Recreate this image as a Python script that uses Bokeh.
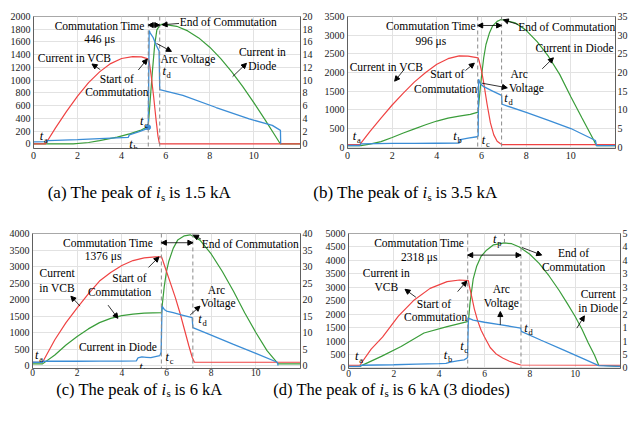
from bokeh.plotting import figure
from bokeh.models import Range1d, LinearAxis, FixedTicker, Span, Arrow, NormalHead, Label
from bokeh.layouts import column, row
from bokeh.embed import file_html
from bokeh.resources import INLINE

# ---------------- data ----------------
x_ticks = [0, 2, 4, 6, 8, 10]

# (a) peak 1.5 kA
a_red_t = [0, 0.55, 1.0, 1.5, 2.0, 2.5, 3.0, 3.5, 4.0, 4.5, 4.9, 5.2, 5.25, 5.35, 5.45, 5.55, 5.65, 5.72, 12.12]
a_red_i = [0, 0, 250, 510, 750, 960, 1130, 1260, 1340, 1370, 1365, 1335, 1300, 1050, 750, 420, 120, 0, 0]
a_green_t = [0, 1.8, 2.5, 3.0, 3.8, 4.4, 4.85, 5.21, 5.3, 5.4, 5.5, 5.6, 5.73, 5.85, 6.5, 7.0, 7.5, 8.0, 8.5,
             9.0, 9.5, 10.0, 10.5, 11.0, 11.2, 12.12]
a_green_i = [0, 0, 20, 50, 105, 160, 210, 275, 700, 1150, 1550, 1790, 1860, 1880, 1846, 1774, 1664, 1518, 1339,
             1131, 899, 648, 384, 111, 0, 0]
a_blue_t = [0, 0.6, 0.65, 2.0, 3.0, 4.3, 4.35, 4.8, 5.1, 5.21, 5.25, 5.3, 5.43, 5.58, 5.7, 5.73, 6.78, 8.29,
            9.79, 10.84, 11.21, 11.22]
a_blue_u = [0.3, 0.35, 0.5, 0.65, 0.8, 1.0, 1.4, 1.9, 2.3, 2.6, 17.8, 17.4, 16.7, 15.4, 14.6, 8.5, 7.6, 5.7,
            3.9, 2.9, 2.1, 0]
a_comm = [5.21, 5.73]
a_tc_t = [5.2]
a_tc_u = [2.6]

# (b) peak 3.5 kA
b_red_t = [0, 0.55, 1.0, 1.5, 2.0, 2.5, 3.0, 3.5, 4.0, 4.5, 5.0, 5.4, 5.85, 5.9, 6.0, 6.1, 6.25, 6.4, 6.55,
           6.7, 6.85, 6.92, 12]
b_red_i = [70, 70, 420, 780, 1130, 1450, 1750, 2000, 2220, 2370, 2445, 2440, 2390, 2300, 2050, 1720, 1150, 650,
           330, 160, 90, 70, 70]
b_green_t = [0, 0.6, 1.0, 1.5, 2.0, 2.5, 3.0, 3.5, 4.0, 4.5, 5.0, 5.5, 5.85, 5.9, 6.0, 6.1, 6.2, 6.35, 6.5, 6.7,
             6.88, 7.5, 8.0, 8.5, 9.0, 9.5, 10.0, 10.5, 11.0, 11.15, 12]
b_green_i = [40, 40, 80, 150, 260, 380, 490, 600, 700, 780, 830, 880, 940, 1300, 1900, 2400, 2750, 3050, 3250,
             3370, 3420, 3330, 3130, 2820, 2430, 1950, 1350, 780, 220, 40, 40]
b_blue_t = [0, 0.55, 0.6, 2.0, 3.0, 4.0, 5.0, 5.05, 5.4, 5.8, 5.85, 5.87, 5.95, 6.1, 6.5, 6.9, 6.92, 8.0, 9.0,
            10.0, 10.9, 11.1, 11.15, 12]
b_blue_u = [0.45, 0.45, 0.9, 1.0, 1.0, 1.05, 1.1, 2.0, 2.4, 2.8, 3.0, 18.2, 17.0, 16.2, 15.0, 13.9, 11.5, 9.3,
            7.2, 5.0, 2.4, 1.8, 0.4, 0.4]
b_comm = [5.83, 6.9]

# (c) peak 6 kA
c_red_t = [0, 0.45, 1.0, 1.5, 2.0, 2.5, 3.0, 3.5, 4.0, 4.5, 5.0, 5.5, 5.78, 5.85, 6.0, 6.2, 6.4, 6.6, 6.8, 7.0,
           7.15, 7.25, 12]
c_red_i = [100, 100, 780, 1300, 1750, 2170, 2560, 2820, 3030, 3180, 3260, 3290, 3290, 3150, 2850, 2450, 2050,
           1600, 1100, 600, 250, 100, 100]
c_green_t = [0, 0.45, 1.0, 1.5, 2.0, 2.5, 3.0, 3.5, 4.0, 4.5, 5.0, 5.78, 5.82, 5.9, 6.0, 6.1, 6.3, 6.5, 6.8,
             7.06, 7.5, 8.0, 8.5, 9.0, 9.5, 10.0, 10.5, 11.0, 12]
c_green_i = [50, 50, 320, 620, 880, 1110, 1300, 1430, 1510, 1560, 1590, 1600, 1900, 2400, 2850, 3150, 3550,
             3800, 3930, 3960, 3800, 3380, 2850, 2250, 1600, 1000, 450, 50, 50]
c_blue_t = [0, 0.45, 0.5, 2.0, 3.0, 4.0, 4.65, 4.72, 4.9, 5.1, 5.3, 5.5, 5.7, 5.76, 5.8, 5.9, 6.0, 6.3, 6.7,
            7.15, 7.18, 8.0, 9.0, 10.0, 10.96, 11.0]
c_blue_u = [1.0, 1.0, 1.3, 1.3, 1.35, 1.35, 1.4, 2.3, 2.6, 2.5, 2.4, 2.7, 3.0, 4.0, 18.0, 17.0, 16.5, 16.0,
            15.3, 14.5, 11.5, 9.2, 6.4, 3.7, 1.0, 0]
c_comm = [5.77, 7.18]

# (d) peak 6 kA, 3 diodes
d_red_t = [0, 0.5, 1.0, 1.5, 2.2, 2.9, 3.6, 4.35, 4.9, 5.29, 5.33, 5.45, 5.55, 5.7, 5.85, 6.0, 6.25, 6.5, 6.8,
           7.1, 7.4, 7.6, 12]
d_red_i = [100, 100, 700, 1150, 1930, 2530, 2960, 3210, 3270, 3250, 3050, 2600, 2200, 1750, 1400, 1150, 760,
           530, 370, 250, 160, 110, 100]
d_green_t = [0, 0.5, 1.45, 2.32, 3.33, 4.35, 5.29, 5.36, 5.5, 5.65, 5.85, 6.09, 6.4, 6.88, 7.2, 7.54, 8.0, 8.41,
             8.85, 9.28, 9.65, 10.0, 10.3, 10.58, 10.85, 11.04, 12]
d_green_i = [60, 60, 430, 800, 1300, 1540, 1730, 2410, 3300, 3770, 4150, 4380, 4580, 4650, 4620, 4500, 4230,
             3890, 3420, 2900, 2400, 1915, 1440, 925, 480, 100, 60]
d_blue_t = [0, 0.5, 0.55, 2.0, 3.0, 4.0, 4.3, 4.5, 4.8, 5.1, 5.25, 5.29, 5.5, 6.0, 6.67, 7.2, 7.6, 7.62, 8.5,
            9.5, 10.5, 11.04, 12]
d_blue_u = [0.6, 0.6, 1.0, 1.2, 1.4, 1.6, 1.7, 2.2, 2.6, 3.0, 3.8, 18.5, 17.8, 17.0, 16.1, 15.4, 14.8, 13.6,
            10.3, 6.6, 2.9, 0.9, 0.6]
d_comm = [5.26, 7.61]
d_peak_t = [6.88]
d_peak_i = [4650]
d_u_labels = {0: "0", 5: "5", 10: "1", 15: "1", 20: "2", 25: "2", 30: "3", 35: "3", 40: "4", 45: "4", 50: "5"}

comm_times = ["446 μs", "996 μs", "1376 μs", "2318 μs"]
captions = [("(a) The peak of", "is 1.5 kA"), ("(b) The peak of", "is 3.5 kA"),
            ("(c) The peak of", "is 6 kA"), ("(d) The peak of", "is 6 kA (3 diodes)")]

# ---------------- style ----------------
FONT = "Liberation Serif"
RED = "#ef4343"
GREEN = "#3a9d3a"
BLUE = "#3b8dd6"
DASH = "#8a8a8a"
TXT = "11.5px"


def mk_map(ox, oy, x0, sx, y0, sy):
    def Z(X, Y):
        rx, ry = ox + X / 3.0, oy + Y / 3.0
        return (rx - x0) / sx, (y0 - ry) / sy

    def R(rx, ry):
        return (rx - x0) / sx, (y0 - ry) / sy
    return Z, R


def lab(p, x, y, text, size=TXT, align="center", style="normal", xo=0, yo=0):
    p.add_layout(Label(x=x, y=y, text=text, text_font=FONT, text_font_size=size, text_align=align,
                       text_baseline="middle", text_font_style=style, text_color="black",
                       x_offset=xo, y_offset=yo))


def panel(cfg, red_t, red_i, green_t, green_i, blue_t, blue_u, comm, ctime, ann):
    Z, R = cfg["map"]
    y_lo, y_hi = cfg["y"]
    p = figure(width=cfg["w"], height=cfg["h"], x_range=Range1d(0, cfg["x_end"]),
               y_range=Range1d(y_lo, y_hi), output_backend="svg", toolbar_location=None,
               min_border_left=cfg["b"][0], min_border_right=cfg["b"][1],
               min_border_top=cfg["b"][2], min_border_bottom=cfg["b"][3],
               outline_line_color="#a8a8a8", background_fill_color="white", border_fill_color="white")
    p.extra_y_ranges = {"u": Range1d(y_lo / 100.0, y_hi / 100.0)}
    xa = p.xaxis[0]
    ya = p.yaxis[0]
    xa.ticker = FixedTicker(ticks=x_ticks)
    ya.ticker = FixedTicker(ticks=list(range(0, int(y_hi) + 1, cfg["ystep"])))
    ua = LinearAxis(y_range_name="u", ticker=FixedTicker(ticks=list(range(0, int(y_hi / 100) + 1, cfg["ustep"]))))
    if cfg.get("uover"):
        ua.major_label_overrides = cfg["uover"]
    p.add_layout(ua, "right")
    for ax in (xa, ya, ua):
        ax.major_label_text_font = FONT
        ax.major_label_text_font_size = "10px"
        ax.major_label_text_color = "#1a1a1a"
        ax.axis_line_color = "#606060"
        ax.major_tick_out = 0
        ax.major_tick_in = 0
        ax.minor_tick_out = 0
        ax.minor_tick_in = 0
    xa.major_label_text_font_size = cfg["xfont"]
    xa.major_label_standoff = cfg["xstand"]
    ya.major_label_standoff = 3
    ua.major_label_standoff = 2
    p.xgrid.grid_line_color = "#e2e2e2"
    p.ygrid.grid_line_color = "#e2e2e2"

    for c in comm:
        p.add_layout(Span(location=c, dimension="height", line_color=DASH, line_dash="4 3", line_width=1))

    p.line(green_t, green_i, line_color=GREEN, line_width=1.2)
    p.line(red_t, red_i, line_color=RED, line_width=1.2)
    p.line(blue_t, blue_u, line_color=BLUE, line_width=1.3, y_range_name="u")

    # commutation-time double arrow
    _, ay = Z(0, ann["commY"])
    p.add_layout(Arrow(x_start=comm[0], y_start=ay, x_end=comm[1], y_end=ay, line_width=0.8,
                       start=NormalHead(size=5, fill_color="black", line_color="black"),
                       end=NormalHead(size=5, fill_color="black", line_color="black")))
    texts = [("Commutation Time",) + ann["ct"][0], (ctime,) + ann["ct"][1]] + ann["texts"]
    for txt, X, Y, al in texts:
        x, y = Z(X, Y)
        lab(p, x, y, txt, align=al)
    for X1, Y1, X2, Y2 in ann["arrows"]:
        x1, y1 = Z(X1, Y1)
        x2, y2 = Z(X2, Y2)
        p.add_layout(Arrow(x_start=x1, y_start=y1, x_end=x2, y_end=y2, line_width=0.8,
                           end=NormalHead(size=5, fill_color="black", line_color="black")))
    for sub, X, Y in ann["tv"]:
        x, y = Z(X, Y)
        lab(p, x, y, "t", size="12.5px", align="center", style="italic")
        lab(p, x, y, sub, size="8.5px", align="left", xo=2.5, yo=-4)
    # axis unit labels
    for (var, unit, w), (rx, ry) in zip([("i", "/A", 3), ("u", "/V", 5), ("t", "/ms", 3)],
                                        [ann["iA"], ann["uV"], ann["tms"]]):
        x, y = R(rx, ry)
        lab(p, x, y, var, size="9.5px", align="left", style="italic")
        lab(p, x, y, unit, size="9.5px", align="left", xo=w)
    return p


# geometry of each panel (reference pixel mapping); figures start at the page's top-left corner
cfg_a = dict(w=315, h=175, b=(33, 13, 16, 27), x_end=12.12, y=(-74, 2000), ystep=200, ustep=2, xstand=3,
             xfont="10px", map=mk_map(0, 0, 32.7, 22.2, 143.3, 0.0638))
cfg_b = dict(w=315, h=175, b=(32, 12, 16, 27), x_end=12.0, y=(-35, 3500), ystep=500, ustep=5, xstand=3,
             xfont="10px", map=mk_map(315, 0, 347.3, 22.6, 146.7, 0.03734))
cfg_c = dict(w=315, h=169, b=(32, 12, 22, 11), x_end=12.0, y=(-90, 4000), ystep=500, ustep=5, xstand=0,
             xfont="9.5px", map=mk_map(0, 210, 31.7, 22.66, 365.0, 0.03333))
cfg_d = dict(w=315, h=169, b=(33, 7, 23, 11), x_end=12.0, y=(-20, 5000), ystep=500, ustep=5, xstand=1,
             xfont="9.5px", map=mk_map(315, 210, 348.3, 23.0, 368.3, 0.027), uover=d_u_labels)

ann_a = dict(commY=73, ct=[(298, 75, "center"), (298, 115, "center")],
             texts=[("End of Commutation", 540, 65, "left"), ("Current in VCB", 222, 172, "center"),
                    ("Start of", 350, 235, "center"), ("Commutation", 350, 275, "center"),
                    ("Arc Voltage", 565, 175, "center"), ("Current in", 790, 155, "center"),
                    ("Diode", 790, 195, "center")],
             arrows=[(300, 207, 275, 190), (415, 208, 442, 175), (470, 128, 515, 152), (538, 68, 487, 72),
                     (700, 228, 742, 188)],
             tv=[("a", 122, 405), ("b", 393, 432), ("c", 425, 362), ("d", 493, 210)],
             iA=(42, 7), uV=(289, 7), tms=(286, 155))
ann_b = dict(commY=75, ct=[(350, 78, "center"), (350, 122, "center")],
             texts=[("End of Commutation", 615, 80, "left"), ("Current in Diode", 668, 142, "left"),
                    ("Current in VCB", 215, 200, "center"), ("Start of", 400, 222, "center"),
                    ("Commutation", 395, 265, "center"), ("Arc", 618, 220, "center"),
                    ("Voltage", 640, 262, "center")],
             arrows=[(268, 208, 240, 242), (455, 210, 482, 188), (505, 248, 582, 262), (615, 72, 570, 58),
                     (688, 205, 722, 172)],
             tv=[("a", 118, 408), ("b", 423, 408), ("c", 510, 420), ("d", 578, 292)],
             iA=(348, 7), uV=(606, 7), tms=(605, 155))
ann_c = dict(commY=93, ct=[(325, 95, "center"), (310, 132, "center")],
             texts=[("End of Commutation", 610, 98, "left"), ("Current", 170, 185, "center"),
                    ("in VCB", 170, 230, "center"), ("Start of", 390, 200, "center"),
                    ("Commutation", 360, 242, "center"), ("Arc", 655, 235, "center"),
                    ("Voltage", 660, 275, "center"), ("Current in Diode", 355, 410, "center")],
             arrows=[(240, 285, 212, 255), (448, 168, 480, 136), (575, 312, 605, 285), (608, 82, 585, 70),
                     (325, 282, 355, 322)],
             tv=[("a", 108, 432), ("b", 425, 470), ("c", 505, 440), ("d", 605, 325)],
             iA=(32, 225), uV=(289, 225), tms=(287, 373))
ann_d = dict(commY=135, ct=[(315, 100, "center"), (315, 142, "center")],
             texts=[("End of", 785, 128, "center"), ("Commutation", 785, 172, "center"),
                    ("Current in", 215, 188, "center"), ("VCB", 215, 230, "center"),
                    ("Start of", 360, 282, "center"), ("Commutation", 365, 322, "center"),
                    ("Arc", 565, 237, "center"), ("Voltage", 565, 278, "center"),
                    ("Current", 860, 253, "center"), ("in Diode", 860, 295, "center")],
             arrows=[(305, 262, 272, 238), (432, 245, 460, 213), (562, 345, 562, 305), (628, 112, 688, 135),
                     (795, 355, 818, 318)],
             tv=[("a", 125, 440), ("b", 395, 435), ("c", 445, 410), ("d", 640, 355), ("p", 545, 85)],
             iA=(350, 225), uV=(610, 225), tms=(613, 375))

pa = panel(cfg_a, a_red_t, a_red_i, a_green_t, a_green_i, a_blue_t, a_blue_u, a_comm, comm_times[0], ann_a)
pa.scatter(a_tc_t, a_tc_u, y_range_name="u", size=5, color=BLUE)
pb = panel(cfg_b, b_red_t, b_red_i, b_green_t, b_green_i, b_blue_t, b_blue_u, b_comm, comm_times[1], ann_b)
pc = panel(cfg_c, c_red_t, c_red_i, c_green_t, c_green_i, c_blue_t, c_blue_u, c_comm, comm_times[2], ann_c)
pd = panel(cfg_d, d_red_t, d_red_i, d_green_t, d_green_i, d_blue_t, d_blue_u, d_comm, comm_times[3], ann_d)
pd.segment(x0=d_peak_t, y0=d_peak_i, x1=d_peak_t, y1=[5000], line_color=DASH, line_dash="4 3", line_width=1)


def caption_fig(top, h, items, size):
    c = figure(width=630, height=h, x_range=Range1d(0, 630), y_range=Range1d(top + h, top),
               output_backend="svg", toolbar_location=None, min_border=0,
               x_axis_location=None, y_axis_location=None, outline_line_color=None)
    c.xgrid.visible = False
    c.ygrid.visible = False
    for (pre, post), ax, ay in items:
        lab(c, ax, ay, pre, size=size, align="right", xo=-4)
        lab(c, ax, ay, "i", size=size, align="left", style="italic")
        lab(c, ax, ay, "s", size="11px", align="left", xo=5, yo=-4)
        lab(c, ax, ay, post, size=size, align="left", xo=13)
    return c


cap1 = caption_fig(175, 35, [(captions[0], 155.5, 192), (captions[1], 422, 192)], "17px")
cap2 = caption_fig(379, 48, [(captions[2], 161, 388.5), (captions[3], 379, 388.5)], "16.5px")

layout = column(row(pa, pb), cap1, row(pc, pd), cap2)
open("out.html", "w").write(file_html(layout, INLINE))
